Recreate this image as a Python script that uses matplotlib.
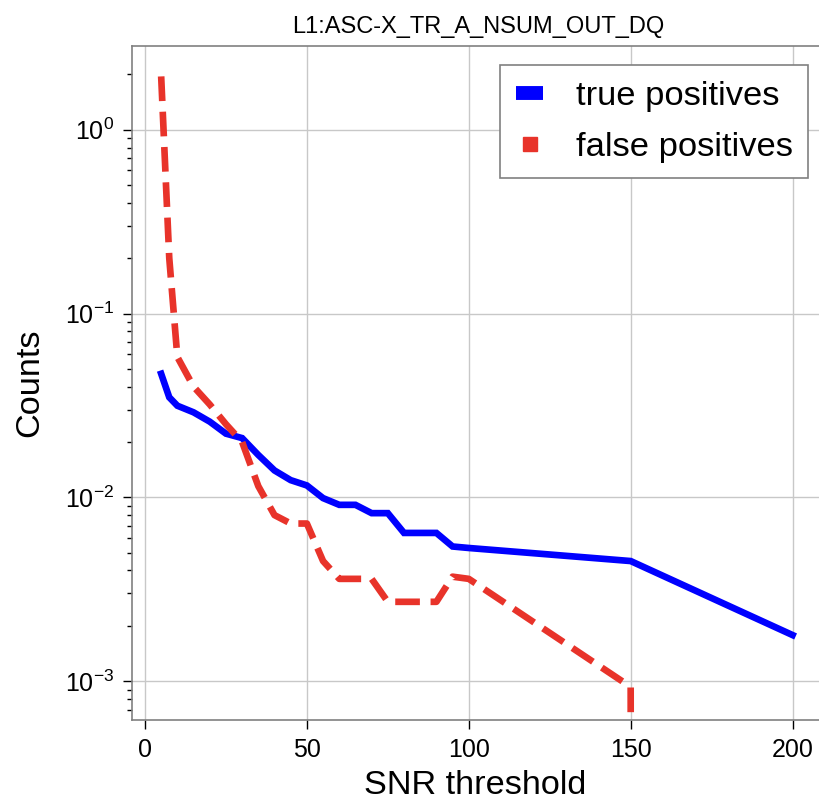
import matplotlib
matplotlib.use("Agg")
import matplotlib.pyplot as plt
from matplotlib.lines import Line2D
import numpy as np

plt.rcParams['font.family'] = ['Liberation Sans', 'DejaVu Sans']
plt.rcParams['mathtext.fontset'] = 'custom'
plt.rcParams['mathtext.rm'] = 'Liberation Sans'
plt.rcParams['mathtext.it'] = 'Liberation Sans:italic'

title = "L1:ASC-X_TR_A_NSUM_OUT_DQ"
snr = [5, 7.5, 10, 15, 20, 25, 30, 35, 40, 45, 50, 55, 60, 65, 70, 75, 80, 85, 90, 95, 100, 150, 200]
true_pos = [0.047, 0.035, 0.0315, 0.029, 0.0258, 0.0222, 0.021, 0.017, 0.0140, 0.0124, 0.0116,
            0.0099, 0.0091, 0.0091, 0.0082, 0.0082, 0.0064, 0.0064, 0.0064, 0.0054, 0.0053,
            0.0045, 0.00178]
false_pos = [1.95, 0.20, 0.058, 0.040, 0.032, 0.025, 0.020, 0.0115, 0.0080, 0.0072, 0.0072,
             0.0045, 0.0036, 0.0036, 0.0036, 0.0027, 0.0027, 0.0027, 0.0027, 0.0037, 0.0036,
             0.00093, 0.0]

blue = '#0000ff'
red = '#e8332a'

W, H = 819, 805
fig = plt.figure(figsize=(W / 100, H / 100), dpi=100, facecolor='white')
# axes spans to the right figure edge (reference is a crop)
ax = fig.add_axes([131.7 / W, 84.7 / H, (W - 131.7) / W, 674.6 / H])
ax.set_yscale('log')

ax.plot(snr, true_pos, color=blue, lw=4.8, solid_joinstyle='miter', zorder=3)
ax.plot(snr, false_pos, color=red, lw=4.8, ls='--', zorder=3)

ax.set_xlim(-4.1, -4.1 + (W - 131.7) / 3.238)
ax.set_ylim(6.12e-4, 2.865)

ax.grid(True, which='major', color='#c8c8c8', lw=1.0)
ax.set_axisbelow(True)
for s in ax.spines.values():
    s.set_color('#808080')
    s.set_linewidth(1.2)
ax.spines['right'].set_visible(False)

ax.tick_params(axis='both', which='major', labelsize=18, length=6.5, width=1.0,
               color='black', pad=6)
ax.tick_params(axis='y', which='minor', length=3.5, width=1.0, color='black')
ax.set_xticks([0, 50, 100, 150, 200])

ax.set_xlabel('SNR threshold', fontsize=24.7, labelpad=6)
ax.set_ylabel('Counts', fontsize=24.7, labelpad=14)
ax.set_title(title, fontsize=17, pad=9, x=(824 - 131.7) / 2 / (W - 131.7))

handles = [Line2D([], [], color=blue, lw=10, solid_capstyle='butt'),
           Line2D([], [], color=red, marker='s', markersize=10, ls='none')]
leg = ax.legend(handles, ['true positives', 'false positives'], loc='upper right',
                bbox_to_anchor=(808.3 / W, 1 - 65.0 / H), bbox_transform=fig.transFigure,
                fontsize=24.8, handlelength=0.8, handletextpad=0.94, borderpad=0.45,
                labelspacing=0.58, borderaxespad=0.0, fancybox=False, framealpha=1)
leg.get_frame().set_edgecolor('#808080')
leg.get_frame().set_linewidth(1.2)

fig.savefig('out.png', dpi=100, facecolor='white')
